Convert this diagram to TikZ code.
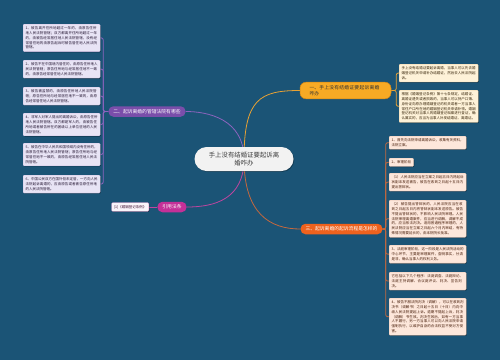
\documentclass[tikz,border=0pt]{standalone}
\usepackage{fontspec}
\usetikzlibrary{shadows}
\newfontfamily\cjk{Noto Sans CJK SC}
\XeTeXlinebreaklocale "zh"
\XeTeXlinebreakskip = 0pt plus 1pt
\definecolor{bgcol}{RGB}{27,84,118}
\definecolor{rootfill}{RGB}{242,242,242}
\definecolor{rootText}{RGB}{60,60,60}
\definecolor{colO}{RGB}{247,170,36}
\definecolor{colOdark}{RGB}{206,132,22}
\definecolor{colP}{RGB}{122,78,170}
\definecolor{colM}{RGB}{196,48,152}
\definecolor{colR}{RGB}{238,98,30}
\definecolor{lineO}{RGB}{232,162,52}
\definecolor{lineP}{RGB}{140,100,190}
\definecolor{lineM}{RGB}{190,70,160}
\definecolor{lineR}{RGB}{196,104,62}
\definecolor{leafPfill}{RGB}{232,228,245}
\definecolor{leafOfill}{RGB}{254,242,216}
\definecolor{leafRfill}{RGB}{253,231,219}
\definecolor{leafMfill}{RGB}{250,244,250}
\pgfdeclarelayer{bg}
\pgfdeclarelayer{edges}
\pgfsetlayers{bg,edges,main}
\tikzset{
  rootnode/.style={rounded corners=12pt,fill=rootfill,text=rootText,minimum width=99pt,minimum height=24pt,
    align=center,inner sep=0pt,font=\cjk\fontsize{6.4}{7.5}\selectfont,
    drop shadow={shadow xshift=0.8pt,shadow yshift=-0.8pt,fill=black,opacity=0.3}},
  branch/.style={rounded corners=5pt,inner xsep=5pt,inner ysep=0pt,minimum height=10.5pt,text=white,
    font=\cjk\fontsize{4.8}{5.8}\selectfont},
  leafbase/.style={anchor=north west,inner sep=2.5pt,align=left,rounded corners=1pt,line width=0.3pt,
    font=\cjk\fontsize{3.5}{4.8}\selectfont,
    drop shadow={shadow xshift=0.7pt,shadow yshift=-0.7pt,fill=black,opacity=0.35}},
  leaf/.style={leafbase,text width=72pt},
  leafP/.style={fill=leafPfill,draw=lineP!40,text=black!70!colP},
  leafO/.style={fill=leafOfill,draw=colOdark!40,text=black!75!colOdark,text width=74pt},
  leafR/.style={fill=leafRfill,draw=lineR!40,text=black!70!colR},
  edge/.style={line width=0.8pt},
}
\begin{document}
\begin{tikzpicture}[x=1pt,y=-1pt]
  \useasboundingbox (0,0) rectangle (500,360);
  \node[rootnode] (root) at (244,159) {手上没有结婚证要起诉离\\婚咋办};
  \node[branch,fill=colO,draw=colOdark,line width=0.5pt,text=black!80,text width=72pt,align=left,
    inner xsep=9.5pt,inner ysep=3.2pt,rounded corners=6pt] (sol) at (345.5,90.5) {一、手上没有结婚证要起诉离婚咋办};
  \node[branch,fill=colP] (jur) at (147,111.5) {二、起诉离婚的管辖法院有哪些};
  \node[branch,fill=colM] (refs) at (172,207) {引用法条};
  \node[branch,fill=colR] (proc) at (341.5,229) {三、起诉离婚的起诉流程是怎样的};
  \node[leaf,leafO] (sol1) at (399,64) {手上没有结婚证要起诉离婚，当事人可以先去婚姻登记机关申请补办结婚证，然后去人民法院起诉。};
  \node[leaf,leafO] (sol2) at (399,90) {根据《婚姻登记条例》第十七条规定，结婚证、离婚证遗失或者损毁的，当事人可以持户口簿、身份证向原办理婚姻登记的机关或者一方当事人常住户口所在地的婚姻登记机关申请补领。婚姻登记机关对当事人的婚姻登记档案进行查证，确认属实的，应当为当事人补发结婚证、离婚证。};
  \node[leaf,leafP] (jur1) at (23,24) {1、被告离开住所地超过一年的，由原告住所地人民法院管辖；双方都离开住所地超过一年的，由被告经常居住地人民法院管辖，没有经常居住地的由原告起诉时被告居住地人民法院管辖。};
  \node[leaf,leafP] (jur2) at (23,60) {2、被告不在中国境内居住的，由原告住所地人民法院管辖；原告住所地与经常居住地不一致的，由原告经常居住地人民法院管辖。};
  \node[leaf,leafP] (jur3) at (23,87) {3、被告被监禁的，由原告住所地人民法院管辖；原告住所地与经常居住地不一致的，由原告经常居住地人民法院管辖。};
  \node[leaf,leafP] (jur4) at (23,113) {4、非军人对军人提出的离婚诉讼，由原告住所地人民法院管辖。双方都是军人的，由被告住所地或者被告所在的团级以上单位驻地的人民法院管辖。};
  \node[leaf,leafP] (jur5) at (23,143) {5、被告在中华人民共和国领域内没有住所的，由原告住所地人民法院管辖；原告住所地与经常居住地不一致的，由原告经常居住地人民法院管辖。};
  \node[leaf,leafP] (jur6) at (23,175) {6、中国公民双方在国外但未定居，一方向人民法院起诉离婚的，应由原告或者被告原住所地的人民法院管辖。};
  \node[leafbase,fill=leafMfill,draw=lineM!60,text=black!70!colM,anchor=east] (ref1) at (149,207) {[1]《婚姻登记条例》};
  \node[leaf,leafR] (proc1) at (389,136) {1、首先向法院申请离婚诉讼，收集有关资料，法院立案。};
  \node[leafbase,leafR] (proc2) at (389,158) {2、审理阶段};
  \node[leaf,leafR] (proc3) at (389,173) {（1）人民法院应当在立案之日起五日内将起诉状副本发送被告，被告在收到之日起十五日内提出答辩状。};
  \node[leaf,leafR] (proc4) at (389,200) {（2）被告提出答辩状的，人民法院应当在收到之日起五日内将答辩状副本发送原告。被告不提出答辩状的，不影响人民法院审理。人民法院审理离婚案件，应当进行调解，调解不成的，应当依法判决。适用普通程序审理的，人民法院应当在立案之日起六个月内审结，有特殊情况需要延长的，由本院院长批准。};
  \node[leaf,leafR] (proc5) at (389,245) {3、法庭审理阶段，这一阶段是人民法院活动的中心环节，主要是审理案件，查明事实，分清是非，确认当事人的权利义务。};
  \node[leaf,leafR] (proc6) at (389,272) {它包括以下几个程序：法庭调查、法庭辩论、法庭主持调解、合议庭评议、判决、宣告判决。};
  \node[leaf,leafR] (proc7) at (389,298) {4、被告不服法院判决（调解），可以在收到判决书（调解书）之日起十五日（十日）内向中级人民法院提起上诉。逾期不提起上诉，判决（调解）书生效。判决生效后，如有一方当事人不履行，另一方当事人可以向人民法院申请强制执行，以维护自身的合法权益不受对方侵害。};
  \begin{pgfonlayer}{bg}
    \fill[bgcol] (0,0) rectangle (500,360);
  \end{pgfonlayer}
  \begin{pgfonlayer}{edges}
    \draw[edge,lineO] (root.center) .. controls +(0,-60) and +(-40,0) .. (sol.west);
    \draw[edge,lineP] (root.center) .. controls +(0,-40) and +(22,0) .. (jur.east);
    \draw[edge,lineM] (root.center) .. controls +(0,40) and +(28,0) .. (refs.east);
    \draw[edge,lineR] (root.center) .. controls +(0,55) and +(-30,0) .. (proc.west);
    \foreach \n in {1,2}
      \draw[edge,lineO,rounded corners=2pt] (sol.east) -- ++(5,0) |- (sol\n.west);
    \foreach \n in {1,...,6}
      \draw[edge,lineP,rounded corners=2pt] (jur.west) -- ++(-5,0) |- (jur\n.east);
    \draw[edge,lineM] (refs.west) -- (ref1.east);
    \foreach \n in {1,...,7}
      \draw[edge,lineR,rounded corners=2pt] (proc.east) -- ++(3,0) |- (proc\n.west);
  \end{pgfonlayer}
\end{tikzpicture}
\end{document}
